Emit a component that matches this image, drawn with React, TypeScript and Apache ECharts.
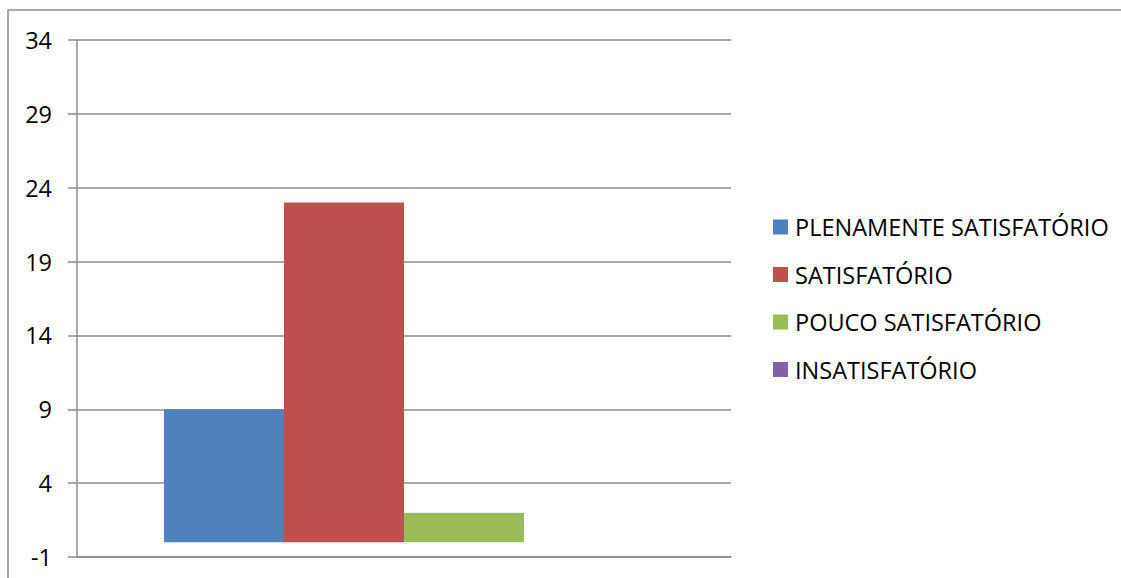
import React, { useEffect, useRef } from "react";
import * as echarts from "echarts";

const categories = ["Avaliação"];
const seriesNames = [
  "PLENAMENTE SATISFATÓRIO",
  "SATISFATÓRIO",
  "POUCO SATISFATÓRIO",
  "INSATISFATÓRIO",
];
const seriesValues = [[9], [23], [2], [0]];
const seriesColors = ["#4F81BD", "#C0504D", "#9BBB59", "#8064A2"];
const yMin = -1;
const yMax = 34;
const yStep = 5;

const FONT = "'Open Sans', 'Liberation Sans', sans-serif";

export default function App() {
  const ref = useRef<HTMLDivElement>(null);
  useEffect(() => {
    if (!ref.current) return;
    const chart = echarts.init(ref.current, null, { renderer: "svg" });
    chart.setOption({
      animation: false,
      backgroundColor: "#ffffff",
      grid: { left: 77, right: 390, top: 40, bottom: 21, containLabel: false },
      legend: {
        orient: "vertical",
        left: 773,
        top: 215,
        padding: 0,
        itemWidth: 15,
        itemHeight: 15,
        itemGap: 23.5,
        icon: "rect",
        textStyle: { fontFamily: FONT, fontSize: 23.5, color: "#000", lineHeight: 20, padding: [0, 0, 0, 2] },
        data: seriesNames,
      },
      xAxis: {
        type: "category",
        data: categories,
        axisLine: { show: true, onZero: false, lineStyle: { color: "#8c8c8c", width: 1.5 } },
        axisTick: { show: false },
        axisLabel: { show: false },
        splitLine: { show: false },
      },
      yAxis: {
        type: "value",
        min: yMin,
        max: yMax,
        interval: yStep,
        axisLine: { show: true, lineStyle: { color: "#8c8c8c", width: 1.5 } },
        axisTick: { show: true, inside: false, length: 9, lineStyle: { color: "#8c8c8c", width: 1.5 } },
        axisLabel: { margin: 25, fontFamily: FONT, fontSize: 23.5, color: "#000" },
        splitLine: { show: true, lineStyle: { color: "#8c8c8c", width: 1.5 } },
      },
      graphic: [
        {
          type: "polyline",
          shape: { points: [[8, 600], [8, 10], [1125, 10]] },
          style: { stroke: "#8c8c8c", lineWidth: 1.5, fill: "none" },
          silent: true,
        },
      ],
      series: seriesNames.map((name, i) => ({
        name,
        type: "bar",
        data: seriesValues[i],
        barGap: "0%",
        barCategoryGap: "26.6%",
        itemStyle: { color: seriesColors[i] },
      })),
    });
    return () => chart.dispose();
  }, []);
  return (
    <div
      ref={ref}
      style={{ position: "fixed", left: 0, top: 0, width: 1121, height: 578 }}
    />
  );
}
